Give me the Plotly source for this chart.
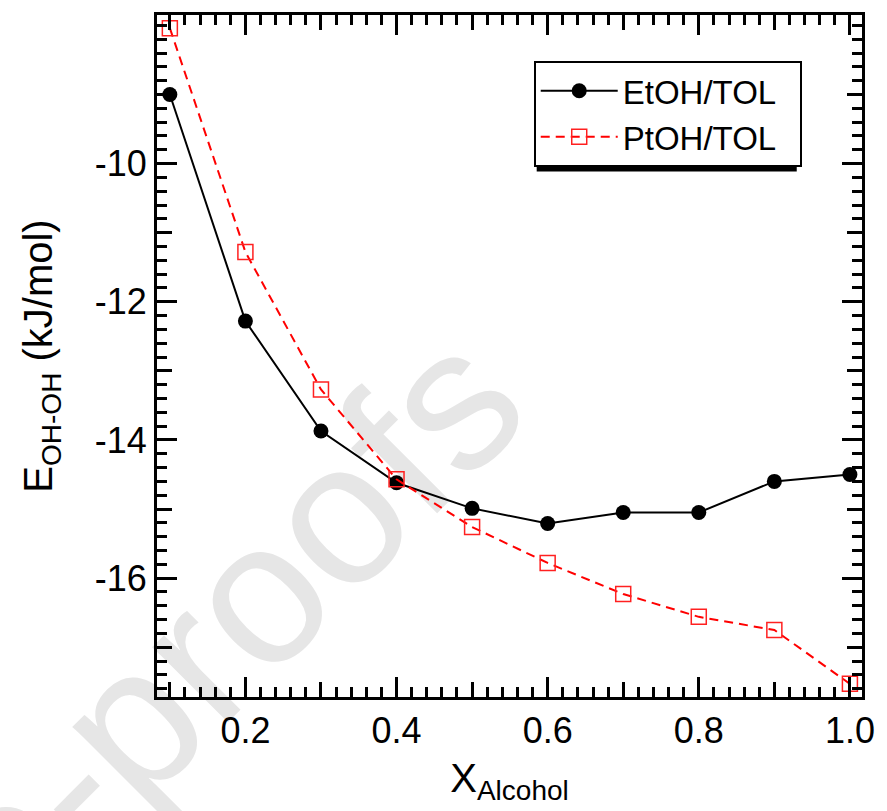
import plotly.graph_objects as go

# ---- data ----
x_alcohol = [0.1, 0.2, 0.3, 0.4, 0.5, 0.6, 0.7, 0.8, 0.9, 1.0]
etoh_tol = [-9.00, -12.28, -13.87, -14.62, -14.99, -15.21, -15.05, -15.05, -14.60, -14.50]
ptoh_tol = [-8.04, -11.28, -13.27, -14.57, -15.26, -15.78, -16.23, -16.56, -16.75, -17.53]
series_names = ["EtOH/TOL", "PtOH/TOL"]

x_major = [0.2, 0.4, 0.6, 0.8, 1.0]
x_major_text = ["0.2", "0.4", "0.6", "0.8", "1.0"]
x_mid = [0.1, 0.3, 0.5, 0.7, 0.9]
y_major = [-10, -12, -14, -16]
y_major_text = ["-10", "-12", "-14", "-16"]
y_mid = [-9, -11, -13, -15, -17]

XR = [0.083, 1.016]
YR = [-17.72, -7.85]
FONT = "Liberation Sans, Arial, Helvetica, sans-serif"

W, H = 887, 811
ML, MR, MT, MB = 157, 17, 13, 114
PW, PH = W - ML - MR, H - MT - MB


def px_to_paper(px, py):
    return (px - ML) / PW, (H - MB - py) / PH


PAD = "\u00a0\u00a0"  # a little trailing room inside the legend box

fig = go.Figure()
fig.add_trace(go.Scatter(
    x=x_alcohol, y=etoh_tol, name=series_names[0] + PAD, mode="lines+markers",
    line=dict(color="black", width=2),
    marker=dict(symbol="circle", size=15, color="black"),
))
fig.add_trace(go.Scatter(
    x=x_alcohol, y=ptoh_tol, name=series_names[1] + PAD, mode="lines+markers",
    line=dict(color="#ff0000", width=2, dash="9px,6px"),
    marker=dict(symbol="square-open", size=15, color="#ff2020", line=dict(width=1.5, color="#ff2020")),
))
# dummy trace for the overlay axes carrying the intermediate ticks
fig.add_trace(go.Scatter(x=[], y=[], xaxis="x2", yaxis="y2", showlegend=False, hoverinfo="skip"))

tickfont = dict(family=FONT, size=36, color="black")
fig.update_layout(
    width=W, height=H,
    margin=dict(l=ML, r=MR, t=MT, b=MB),
    paper_bgcolor="white", plot_bgcolor="rgba(0,0,0,0)",
    font=dict(family=FONT, color="black"),
    xaxis=dict(
        range=XR, showgrid=False, zeroline=False,
        showline=True, linewidth=3, linecolor="black", mirror="allticks",
        ticks="inside", tickwidth=2.5, ticklen=20, tickcolor="black",
        tickmode="array", tickvals=x_major, ticktext=x_major_text, tickfont=tickfont,
        minor=dict(ticks="inside", dtick=0.02, tick0=0, ticklen=10, tickwidth=2.5, tickcolor="black", showgrid=False),
        title=dict(text="X<sub>Alcohol</sub>", font=dict(family=FONT, size=40), standoff=14),
    ),
    yaxis=dict(
        range=YR, showgrid=False, zeroline=False,
        showline=True, linewidth=3, linecolor="black", mirror="allticks",
        ticks="inside", tickwidth=2.5, ticklen=20, tickcolor="black",
        tickmode="array", tickvals=y_major, ticktext=y_major_text, tickfont=tickfont,
        minor=dict(ticks="inside", dtick=0.2, tick0=0, ticklen=10, tickwidth=2.5, tickcolor="black", showgrid=False),
        title=dict(text="E<sub>OH-OH</sub> (kJ/mol)", font=dict(family=FONT, size=40), standoff=30),
    ),
    xaxis2=dict(
        range=XR, overlaying="x", anchor="y", side="bottom", showgrid=False, zeroline=False,
        showline=False, mirror="allticks", ticks="inside", tickwidth=2.5, ticklen=15, tickcolor="black",
        tickmode="array", tickvals=x_mid, showticklabels=False,
    ),
    yaxis2=dict(
        range=YR, overlaying="y", anchor="x", side="left", showgrid=False, zeroline=False,
        showline=False, mirror="allticks", ticks="inside", tickwidth=2.5, ticklen=15, tickcolor="black",
        tickmode="array", tickvals=y_mid, showticklabels=False,
    ),
    legend=dict(
        x=px_to_paper(538, 0)[0], y=px_to_paper(0, 59)[1], xanchor="left", yanchor="top",
        bgcolor="white", bordercolor="black", borderwidth=2,
        font=dict(family=FONT, size=33, color="black"),
        itemwidth=77, tracegroupgap=0,
    ),
    showlegend=True,
)

# legend drop shadow (offset black box behind the legend)
sx0, sy0 = px_to_paper(541, 63)
sx1, sy1 = px_to_paper(804, 170)
fig.add_shape(type="rect", xref="paper", yref="paper", x0=sx0, y0=sy1, x1=sx1, y1=sy0,
              layer="above", line=dict(width=0), fillcolor="black")

# watermark, drawn beneath everything
cx, cy = px_to_paper(-118, 940)
fig.add_shape(
    type="rect", xref="paper", yref="paper",
    x0=cx - 0.01, x1=cx + 0.01, y0=cy - 0.01, y1=cy + 0.01, layer="below",
    line=dict(width=0, color="rgba(0,0,0,0)"), fillcolor="rgba(0,0,0,0)",
    label=dict(text="Journal Pre-proofs", textangle=-45, textposition="middle center",
               font=dict(family=FONT, size=202, color="#e6e6e6")),
)

fig.write_html("out.html")
